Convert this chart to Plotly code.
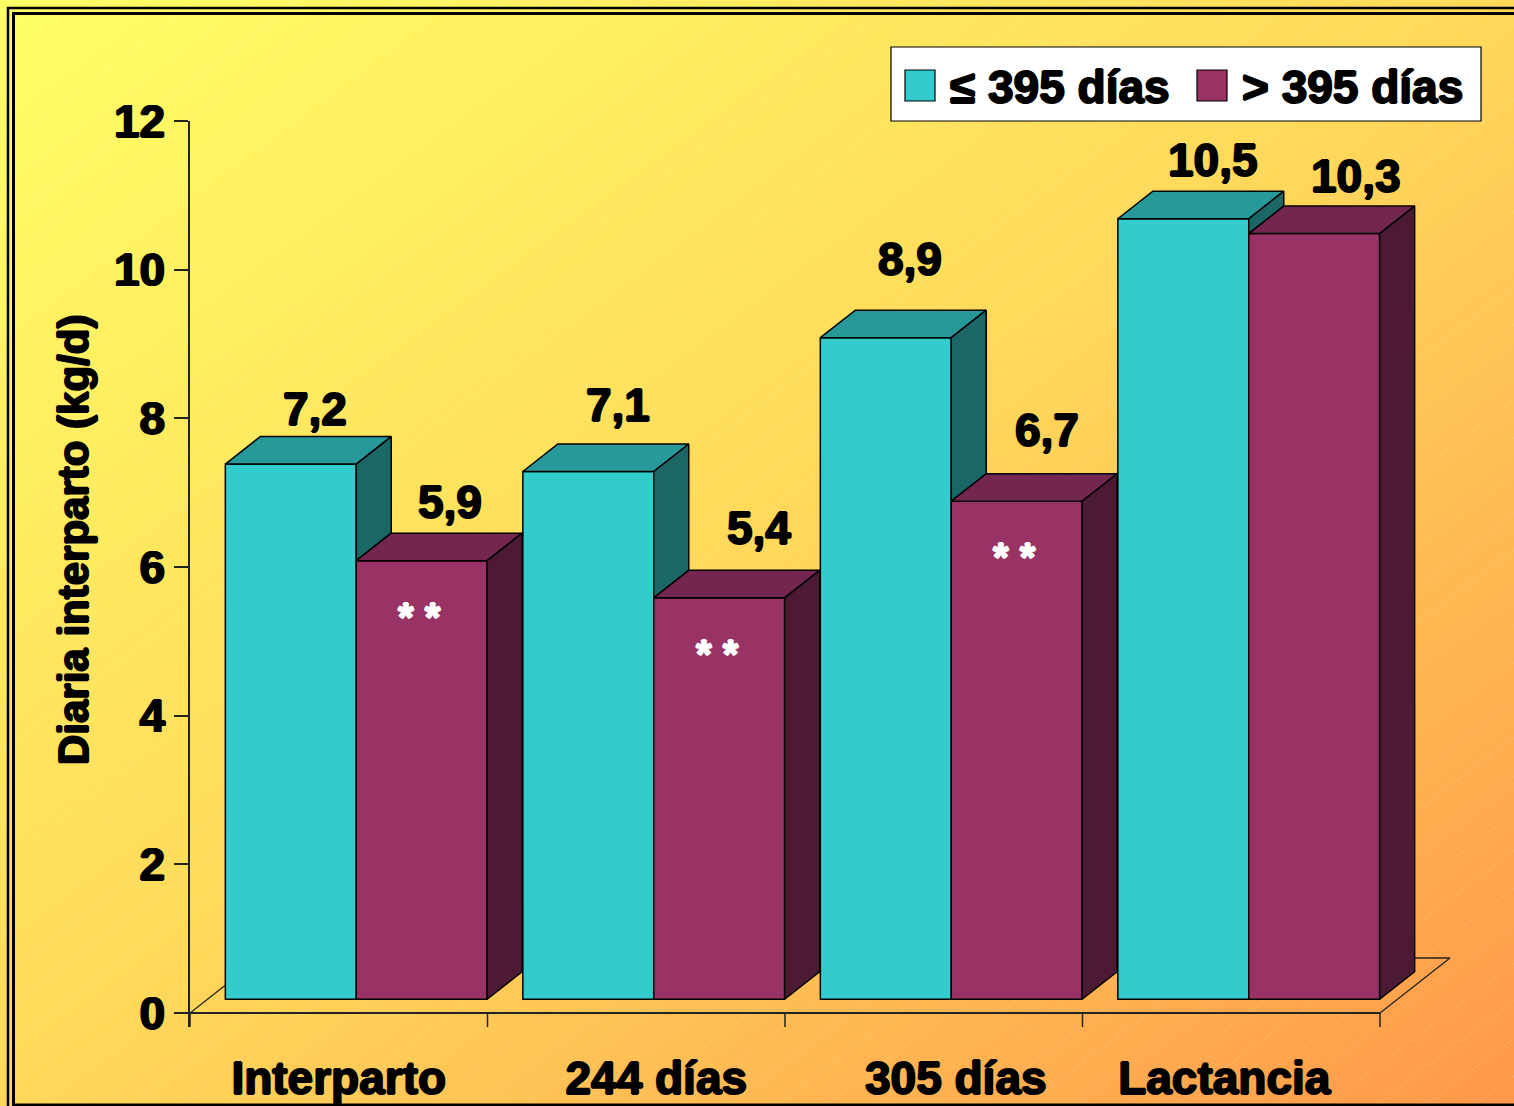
import base64

import plotly.graph_objects as go

# ── data ─────────────────────────────────────────────────────────────────────
categories = ["Interparto", "244 días", "305 días", "Lactancia"]
short_interval = [7.2, 7.1, 8.9, 10.5]      # ≤ 395 días
long_interval = [5.9, 5.4, 6.7, 10.3]       # > 395 días
significance = ["* *", "* *", "* *", ""]
series_names = ["≤ 395 días", "> 395 días"]
y_ticks = [0, 2, 4, 6, 8, 10, 12]

# label nudges in px (right, up) from the front top edge of each bar
label_offsets_px = [
    [(24, 55), (30, 66), (24, 79), (30, 59)],
    [(28, 59), (40, 70), (30, 71), (42, 58)],
]
category_nudge_px = [0, 20, 22, -7]

# ── style ────────────────────────────────────────────────────────────────────
FRONT = ["#33CCCC", "#993366"]
TOP = ["#279999", "#722650"]
SIDE = ["#1B6666", "#4C1A33"]
FAMILY = "Liberation Sans, Arial, sans-serif"

# page geometry (px) of the plot area
L, R, T, B = 190, 1460, 121, 1027
W, H = R - L, B - T
PX_X = 297.5                     # px per category
Y_MIN = -14 / 74.33
Y_MAX = 12
PX_Y = H / (Y_MAX - Y_MIN)

# 3D depth of the floor, in data units
DX, DY = 70 / PX_X, 55 / PX_Y
FX, FY = 0.25 * DX, 0.25 * DY    # front plane of the bars
BX, BY = 0.5 * DX, 0.5 * DY      # bar depth
BW = 0.44                        # bar width (category units)


def px(x):
    return (x - L) / W


def py(y):
    return (B - y) / H


def font(size, color="black"):
    return dict(family=FAMILY, size=size, color=color, weight="bold",
                shadow=(f"1px 0 0 {color}, -1px 0 0 {color}, "
                        f"0 0.6px 0 {color}, 0 -0.6px 0 {color}"))


series = [short_interval, long_interval]
n = len(categories)

fig = go.Figure()

# front faces
for s, vals in enumerate(series):
    fig.add_bar(
        x=[i + 0.5 + (s - 0.5) * BW + FX for i in range(n)],
        y=vals, base=FY, width=BW, name=series_names[s],
        marker=dict(color=FRONT[s], line=dict(color="black", width=1.5)),
        hoverinfo="skip", showlegend=False,
    )

# top and side faces
for s, vals in enumerate(series):
    tx, ty, sx, sy = [], [], [], []
    for i, v in enumerate(vals):
        x0 = i + 0.5 + (s - 1) * BW + FX
        x1 = x0 + BW
        top = v + FY
        tx += [x0, x1, x1 + BX, x0 + BX, x0, None]
        ty += [top, top, top + BY, top + BY, top, None]
        low = min(series[1][i], v) if s == 0 else 0
        bot = low + FY
        sx += [x1, x1 + BX, x1 + BX, x1, x1, None]
        sy += [top, top + BY, bot + BY, bot, top, None]
    for xs, ys, col in ((tx, ty, TOP[s]), (sx, sy, SIDE[s])):
        fig.add_scatter(x=xs, y=ys, mode="lines", fill="toself", fillcolor=col,
                        line=dict(color="black", width=1.5),
                        hoverinfo="skip", showlegend=False)

# value labels and significance marks
annotations = []
for s, vals in enumerate(series):
    for i, v in enumerate(vals):
        xc = i + 0.5 + (s - 0.5) * BW + FX
        dx, dy = label_offsets_px[s][i]
        annotations.append(dict(
            x=xc, y=v + FY, xref="x", yref="y", text=f"{v:.1f}".replace(".", ","),
            showarrow=False, xshift=dx, yshift=dy, font=font(46),
        ))
for i, mark in enumerate(significance):
    if mark:
        annotations.append(dict(
            x=i + 0.5 + 0.5 * BW + FX, y=long_interval[i] + FY, xref="x", yref="y",
            text=mark, showarrow=False, xshift=-2, yshift=-56, font=font(40, "white"),
        ))

annotations.append(dict(
    x=px(73), y=py(540), xref="paper", yref="paper", text="Diaria interparto (kg/d)",
    textangle=-90, xanchor="center", yanchor="middle", showarrow=False, font=font(42),
))

# legend (custom, so the swatches can match the large text)
for k, x_tx in enumerate((948, 1240)):
    annotations.append(dict(
        x=px(x_tx), y=py(87), xref="paper", yref="paper", text=series_names[k],
        xanchor="left", yanchor="middle", showarrow=False, font=font(46),
    ))

shapes = []
# floor and x axis
shapes += [
    dict(type="line", x0=0, y0=0, x1=DX, y1=DY, xref="x", yref="y", layer="below",
         line=dict(color="#222", width=1.3)),
    dict(type="line", x0=DX, y0=DY, x1=n + DX, y1=DY, xref="x", yref="y",
         layer="below", line=dict(color="#222", width=1.3)),
    dict(type="line", x0=n + DX, y0=DY, x1=n, y1=0, xref="x", yref="y",
         layer="below", line=dict(color="#222", width=1.3)),
    dict(type="line", x0=0, y0=0, x1=n, y1=0, xref="x", yref="y", layer="below",
         line=dict(color="#222", width=2)),
]
for i in range(n + 1):
    shapes.append(dict(type="line", x0=i, y0=0, x1=i, y1=Y_MIN, xref="x", yref="y",
                       line=dict(color="#222", width=1.5)))

# legend box and swatches
shapes.append(dict(type="rect", xref="paper", yref="paper", x0=px(891), x1=px(1481),
                   y0=py(47), y1=py(121), fillcolor="white",
                   line=dict(color="black", width=1.2)))
for k, x_sw in enumerate((905, 1197)):
    shapes.append(dict(type="rect", xref="paper", yref="paper", x0=px(x_sw),
                       x1=px(x_sw + 30), y0=py(70), y1=py(101), fillcolor=FRONT[k],
                       line=dict(color="black", width=1.2)))

# double frame around the slide (right edge runs off the page)
for x0, y0, x1, y1, wd in ((8, 8, 1530, 1111, 2.5), (13.5, 13.5, 1524, 1105, 3)):
    shapes.append(dict(type="rect", xref="paper", yref="paper", x0=px(x0),
                       x1=px(x1), y0=py(y0), y1=py(y1),
                       line=dict(color="black", width=wd)))

# gradient background with faint hatching
svg = (
    '<svg xmlns="http://www.w3.org/2000/svg" width="1514" height="1106" '
    'viewBox="0 0 1514 1106" preserveAspectRatio="none"><defs>'
    '<linearGradient id="g" x1="0" y1="0" x2="1" y2="1">'
    '<stop offset="0" stop-color="#FFFF66"/><stop offset="0.5" stop-color="#FFD85A"/>'
    '<stop offset="1" stop-color="#FF984A"/></linearGradient>'
    '<pattern id="h" width="40" height="30" patternUnits="userSpaceOnUse" '
    'patternTransform="rotate(-37)"><line x1="0" y1="0" x2="40" y2="0" stroke="#fff" '
    'stroke-width="1" stroke-opacity="0.35" stroke-dasharray="2 2"/></pattern></defs>'
    '<rect width="1514" height="1106" fill="url(#g)"/>'
    '<rect width="1514" height="1106" fill="url(#h)"/></svg>'
)
bg = "data:image/svg+xml;base64," + base64.b64encode(svg.encode()).decode()

fig.update_layout(
    width=1514, height=1106,
    margin=dict(l=L, r=1514 - R, t=T, b=1106 - B),
    paper_bgcolor="#FFD85A", plot_bgcolor="rgba(0,0,0,0)",
    barmode="overlay", showlegend=False,
    images=[dict(source=bg, xref="paper", yref="paper", x=px(0), y=py(0),
                 sizex=1514 / W, sizey=1106 / H, xanchor="left", yanchor="top",
                 sizing="stretch", layer="below")],
    xaxis=dict(range=[0, W / PX_X], showline=False, showgrid=False, zeroline=False,
               tickvals=[i + 0.5 + category_nudge_px[i] / PX_X for i in range(n)],
               ticktext=categories, ticks="", automargin=False,
               tickfont=font(46), ticklabelstandoff=20, fixedrange=True),
    yaxis=dict(range=[Y_MIN, Y_MAX], tickvals=y_ticks, showline=True,
               linecolor="#222", linewidth=1.5, ticks="outside", ticklen=14,
               tickwidth=1.5, tickcolor="#222", showgrid=False, zeroline=False,
               automargin=False, tickfont=font(46), ticklabelstandoff=0,
               fixedrange=True),
    annotations=annotations, shapes=shapes,
)

fig.write_html("out.html", config={"displayModeBar": False},
               post_script="document.body.style.margin='0';")
